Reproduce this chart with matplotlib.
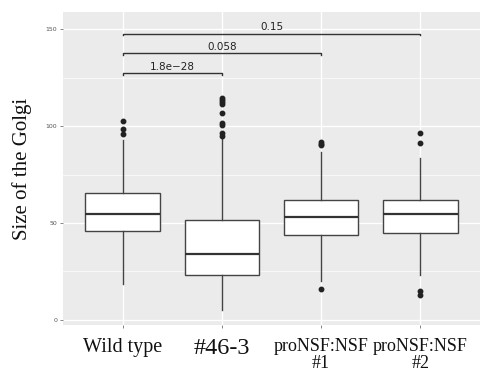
import matplotlib
matplotlib.use("Agg")
import matplotlib.pyplot as plt

# box statistics
groups = ["Wild type", "#46-3", "proNSF:NSF\n#1", "proNSF:NSF\n#2"]
q1 = [45.8, 23.3, 43.7, 44.9]
med = [54.8, 34.0, 53.0, 54.4]
q3 = [65.6, 51.3, 62.0, 62.0]
whislo = [18.5, 5.0, 20.2, 23.2]
whishi = [92.7, 94.0, 86.7, 83.8]
fliers = [
    [95.9, 98.8, 102.7],
    [96.5, 95.0, 100.5, 101.4, 106.9, 111.7, 112.5, 113.5, 114.5],
    [90.2, 91.0, 91.9, 15.9],
    [91.5, 96.7, 15.0, 12.8],
]

# comparisons vs wild type
brackets = [(1, 2, 127.3, "1.8e\u221228"), (1, 3, 137.7, "0.058"), (1, 4, 147.7, "0.15")]

yticks = [0, 50, 100, 150]

fig = plt.figure(figsize=(4.81, 3.74), dpi=100)
ax = fig.add_axes([63 / 481, 1 - 325 / 374, 417 / 481, 313 / 374])
ax.set_facecolor("#EBEBEB")

stats = []
for i in range(len(groups)):
    stats.append({"med": med[i], "q1": q1[i], "q3": q3[i],
                  "whislo": whislo[i], "whishi": whishi[i],
                  "fliers": fliers[i]})

pos = list(range(1, len(groups) + 1))
ax.bxp(stats, positions=pos, widths=0.75, patch_artist=True, showcaps=False,
       boxprops=dict(facecolor="white", edgecolor="#444444", linewidth=1.0),
       medianprops=dict(color="#333333", linewidth=1.6),
       whiskerprops=dict(color="#444444", linewidth=1.0),
       flierprops=dict(marker="o", markerfacecolor="#222222", markeredgecolor="#222222",
                       markersize=3.2, linestyle="none"),
       zorder=3)

for x1, x2, y, lab in brackets:
    ax.plot([x1, x1, x2, x2], [y - 0.8, y, y, y - 0.8], color="#333333", lw=1.0, zorder=3)
    ax.text((x1 + x2) / 2, y + 0.8, lab, ha="center", va="bottom", fontsize=7.5,
            color="#222222", family="DejaVu Sans")

ax.set_xlim(0.4, 4.6)
ax.set_ylim(-2.7, 159)
ax.set_yticks(yticks)
ax.set_yticks([25, 75, 125], minor=True)
ax.set_yticklabels([str(t) for t in yticks], fontsize=4.5, color="#555555")
ax.set_xticks(pos)
ax.set_xticklabels([])
ax.tick_params(axis="both", which="major", length=2, width=0.5, color="#555555", pad=2)
ax.tick_params(axis="y", which="minor", length=0)

ax.grid(True, which="major", color="white", lw=1.0, zorder=0)
ax.grid(True, which="minor", axis="y", color="white", lw=0.5, zorder=0)
ax.set_axisbelow(True)
for s in ax.spines.values():
    s.set_visible(False)

sizes = [14.5, 17.5, 13, 13]
for p, g, fs in zip(pos, groups, sizes):
    ax.text(p, -9.5, g, ha="center", va="top", fontsize=fs, family="Liberation Serif",
            color="#111111", linespacing=0.95, transform=ax.transData, clip_on=False)

ax.set_ylabel("Size of the Golgi", fontsize=15, family="Liberation Serif", labelpad=10,
              color="#111111")

fig.savefig("out.png", dpi=100)
